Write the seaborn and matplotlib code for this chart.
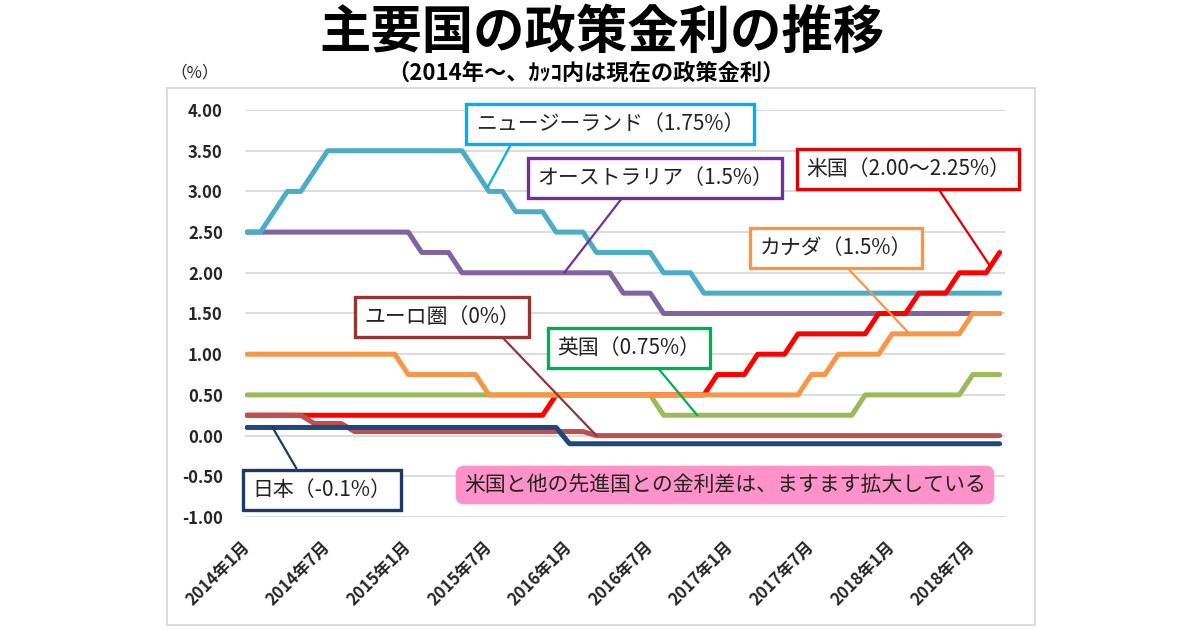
import pandas as pd
import matplotlib.pyplot as plt
import seaborn as sns
from matplotlib.patches import Rectangle
from matplotlib.transforms import ScaledTranslation

# 月次データ (2014年1月～2018年9月)
months = pd.date_range('2014-01-01', periods=57, freq='MS')
month_labels = [f'{d.year}年{d.month}月' for d in months]

nz = [2.5, 2.5, 2.75, 3.0, 3.0, 3.25, 3.5, 3.5, 3.5, 3.5, 3.5, 3.5,
      3.5, 3.5, 3.5, 3.5, 3.5, 3.25, 3.0, 3.0, 2.75, 2.75, 2.75, 2.5,
      2.5, 2.5, 2.25, 2.25, 2.25, 2.25, 2.25, 2.0, 2.0, 2.0, 1.75, 1.75,
      1.75, 1.75, 1.75, 1.75, 1.75, 1.75, 1.75, 1.75, 1.75, 1.75, 1.75, 1.75,
      1.75, 1.75, 1.75, 1.75, 1.75, 1.75, 1.75, 1.75, 1.75]
au = [2.5, 2.5, 2.5, 2.5, 2.5, 2.5, 2.5, 2.5, 2.5, 2.5, 2.5, 2.5,
      2.5, 2.25, 2.25, 2.25, 2.0, 2.0, 2.0, 2.0, 2.0, 2.0, 2.0, 2.0,
      2.0, 2.0, 2.0, 2.0, 1.75, 1.75, 1.75, 1.5, 1.5, 1.5, 1.5, 1.5,
      1.5, 1.5, 1.5, 1.5, 1.5, 1.5, 1.5, 1.5, 1.5, 1.5, 1.5, 1.5,
      1.5, 1.5, 1.5, 1.5, 1.5, 1.5, 1.5, 1.5, 1.5]
us = [0.25, 0.25, 0.25, 0.25, 0.25, 0.25, 0.25, 0.25, 0.25, 0.25, 0.25, 0.25,
      0.25, 0.25, 0.25, 0.25, 0.25, 0.25, 0.25, 0.25, 0.25, 0.25, 0.25, 0.5,
      0.5, 0.5, 0.5, 0.5, 0.5, 0.5, 0.5, 0.5, 0.5, 0.5, 0.5, 0.75,
      0.75, 0.75, 1.0, 1.0, 1.0, 1.25, 1.25, 1.25, 1.25, 1.25, 1.25, 1.5,
      1.5, 1.5, 1.75, 1.75, 1.75, 2.0, 2.0, 2.0, 2.25]
uk = [0.5, 0.5, 0.5, 0.5, 0.5, 0.5, 0.5, 0.5, 0.5, 0.5, 0.5, 0.5,
      0.5, 0.5, 0.5, 0.5, 0.5, 0.5, 0.5, 0.5, 0.5, 0.5, 0.5, 0.5,
      0.5, 0.5, 0.5, 0.5, 0.5, 0.5, 0.5, 0.25, 0.25, 0.25, 0.25, 0.25,
      0.25, 0.25, 0.25, 0.25, 0.25, 0.25, 0.25, 0.25, 0.25, 0.25, 0.5, 0.5,
      0.5, 0.5, 0.5, 0.5, 0.5, 0.5, 0.75, 0.75, 0.75]
ca = [1.0, 1.0, 1.0, 1.0, 1.0, 1.0, 1.0, 1.0, 1.0, 1.0, 1.0, 1.0,
      0.75, 0.75, 0.75, 0.75, 0.75, 0.75, 0.5, 0.5, 0.5, 0.5, 0.5, 0.5,
      0.5, 0.5, 0.5, 0.5, 0.5, 0.5, 0.5, 0.5, 0.5, 0.5, 0.5, 0.5,
      0.5, 0.5, 0.5, 0.5, 0.5, 0.5, 0.75, 0.75, 1.0, 1.0, 1.0, 1.0,
      1.25, 1.25, 1.25, 1.25, 1.25, 1.25, 1.5, 1.5, 1.5]
eu = [0.25, 0.25, 0.25, 0.25, 0.25, 0.15, 0.15, 0.15, 0.05, 0.05, 0.05, 0.05,
      0.05, 0.05, 0.05, 0.05, 0.05, 0.05, 0.05, 0.05, 0.05, 0.05, 0.05, 0.05,
      0.05, 0.05, 0.0, 0.0, 0.0, 0.0, 0.0, 0.0, 0.0, 0.0, 0.0, 0.0,
      0.0, 0.0, 0.0, 0.0, 0.0, 0.0, 0.0, 0.0, 0.0, 0.0, 0.0, 0.0,
      0.0, 0.0, 0.0, 0.0, 0.0, 0.0, 0.0, 0.0, 0.0]
jp = [0.1, 0.1, 0.1, 0.1, 0.1, 0.1, 0.1, 0.1, 0.1, 0.1, 0.1, 0.1,
      0.1, 0.1, 0.1, 0.1, 0.1, 0.1, 0.1, 0.1, 0.1, 0.1, 0.1, 0.1,
      -0.1, -0.1, -0.1, -0.1, -0.1, -0.1, -0.1, -0.1, -0.1, -0.1, -0.1, -0.1,
      -0.1, -0.1, -0.1, -0.1, -0.1, -0.1, -0.1, -0.1, -0.1, -0.1, -0.1, -0.1,
      -0.1, -0.1, -0.1, -0.1, -0.1, -0.1, -0.1, -0.1, -0.1]

# 描画順 (後ろほど上に描かれる)
series = {'オーストラリア': au, 'ニュージーランド': nz, '米国': us,
          '英国': uk, 'カナダ': ca, 'ユーロ圏': eu, '日本': jp}
line_colors = {'オーストラリア': '#8064A2', 'ニュージーランド': '#4BACC6',
               '米国': '#FF0000', '英国': '#9BBB59', 'カナダ': '#F79646',
               'ユーロ圏': '#C0504D', '日本': '#1F497D'}

df = pd.DataFrame({'月': range(len(months)), **series})
df = df.melt(id_vars='月', var_name='国', value_name='金利')

sns.set_theme(style='white')
plt.rcParams['font.family'] = ['Noto Sans CJK JP', 'DejaVu Sans']

fig = plt.figure(figsize=(12, 6.3), dpi=100)
ax = fig.add_axes([245 / 1200, 1 - 517 / 630, 760 / 1200, 407 / 630])

sns.lineplot(data=df, x='月', y='金利', hue='国', hue_order=list(series),
             palette=line_colors, linewidth=3.6, legend=False, ax=ax)
for line in ax.lines:
    line.set_solid_joinstyle('round')

# 軸
yticks = [4.0, 3.5, 3.0, 2.5, 2.0, 1.5, 1.0, 0.5, 0.0, -0.5, -1.0]
ax.set_ylim(-1.0, 4.0)
ax.set_xlim(-0.15, 56.4)
ax.set_yticks(yticks)
ax.set_yticklabels([f'{v:.2f}' for v in yticks], fontweight='bold', fontsize=12)
xt = list(range(0, 57, 6))
ax.set_xticks(xt)
ax.set_xticklabels([month_labels[i] for i in xt], rotation=45, ha='right',
                   va='center', rotation_mode='anchor', fontweight='bold',
                   fontsize=12)
offset = ScaledTranslation(4 / 100, 0, fig.dpi_scale_trans)
for lab in ax.get_xticklabels():
    lab.set_transform(lab.get_transform() + offset)
ax.tick_params(axis='y', length=0, pad=16)
ax.tick_params(axis='x', length=0, pad=20)
ax.set_xlabel('')
ax.set_ylabel('')
ax.yaxis.grid(True, color='#D9D9D9', linewidth=1.3)
ax.set_axisbelow(True)
for s in ax.spines.values():
    s.set_visible(False)

# 吹き出し
def callout(text, xy, center, color, rel):
    ax.annotate(text, xy=xy, xycoords='data', xytext=center,
                textcoords='figure fraction', ha='center', va='center',
                fontsize=15, color='#222222',
                bbox=dict(boxstyle='square,pad=0.45', fc='white', ec=color, lw=2.4),
                arrowprops=dict(arrowstyle='-', color=color, lw=1.6,
                                relpos=rel, shrinkA=0, shrinkB=0))

callout('ニュージーランド（1.75%）', (17.9, 3.05), (610 / 1200, 1 - 124 / 630), '#00B0F0', (0.15, 0))
callout('オーストラリア（1.5%）', (23.6, 2.0), (655 / 1200, 1 - 178 / 630), '#7030A0', (0.39, 0))
callout('米国（2.00～2.25%）', (55.3, 2.08), (908 / 1200, 1 - 169 / 630), '#E00000', (0.62, 0))
callout('カナダ（1.5%）', (49.3, 1.25), (836 / 1200, 1 - 248 / 630), '#F79646', (0.52, 0))
callout('ユーロ圏（0%）', (26.0, 0.0), (442 / 1200, 1 - 317 / 630), '#943634', (0.83, 0))
callout('英国（0.75%）', (33.5, 0.25), (629 / 1200, 1 - 348 / 630), '#00B050', (0.65, 0))
callout('日本（-0.1%）', (1.9, 0.1), (322 / 1200, 1 - 490 / 630), '#1F3864', (0.36, 1))

fig.text(725 / 1200, 1 - 485 / 630, '米国と他の先進国との金利差は、ますます拡大している',
         ha='center', va='center', fontsize=15, color='#222222',
         bbox=dict(boxstyle='round,pad=0.4,rounding_size=0.4', fc='#FF92C9', ec='none'))

# タイトル
fig.text(0.502, 1 - 32 / 630, '主要国の政策金利の推移', ha='center', va='center',
         fontsize=37, fontweight='bold', color='black')
fig.text(586 / 1200, 1 - 73 / 630, '（2014年～、ｶｯｺ内は現在の政策金利）',
         ha='center', va='center', fontsize=16, fontweight='bold', color='black')
fig.text(195 / 1200, 1 - 73 / 630, '（%）', ha='center', va='center', fontsize=12)

fig.patches.append(Rectangle((167 / 1200, 1 - 625 / 630), 868 / 1200, 537 / 630,
                             transform=fig.transFigure, fill=False,
                             ec='#D9D9D9', lw=1.3))

fig.savefig('out.png', dpi=100, facecolor='white')
